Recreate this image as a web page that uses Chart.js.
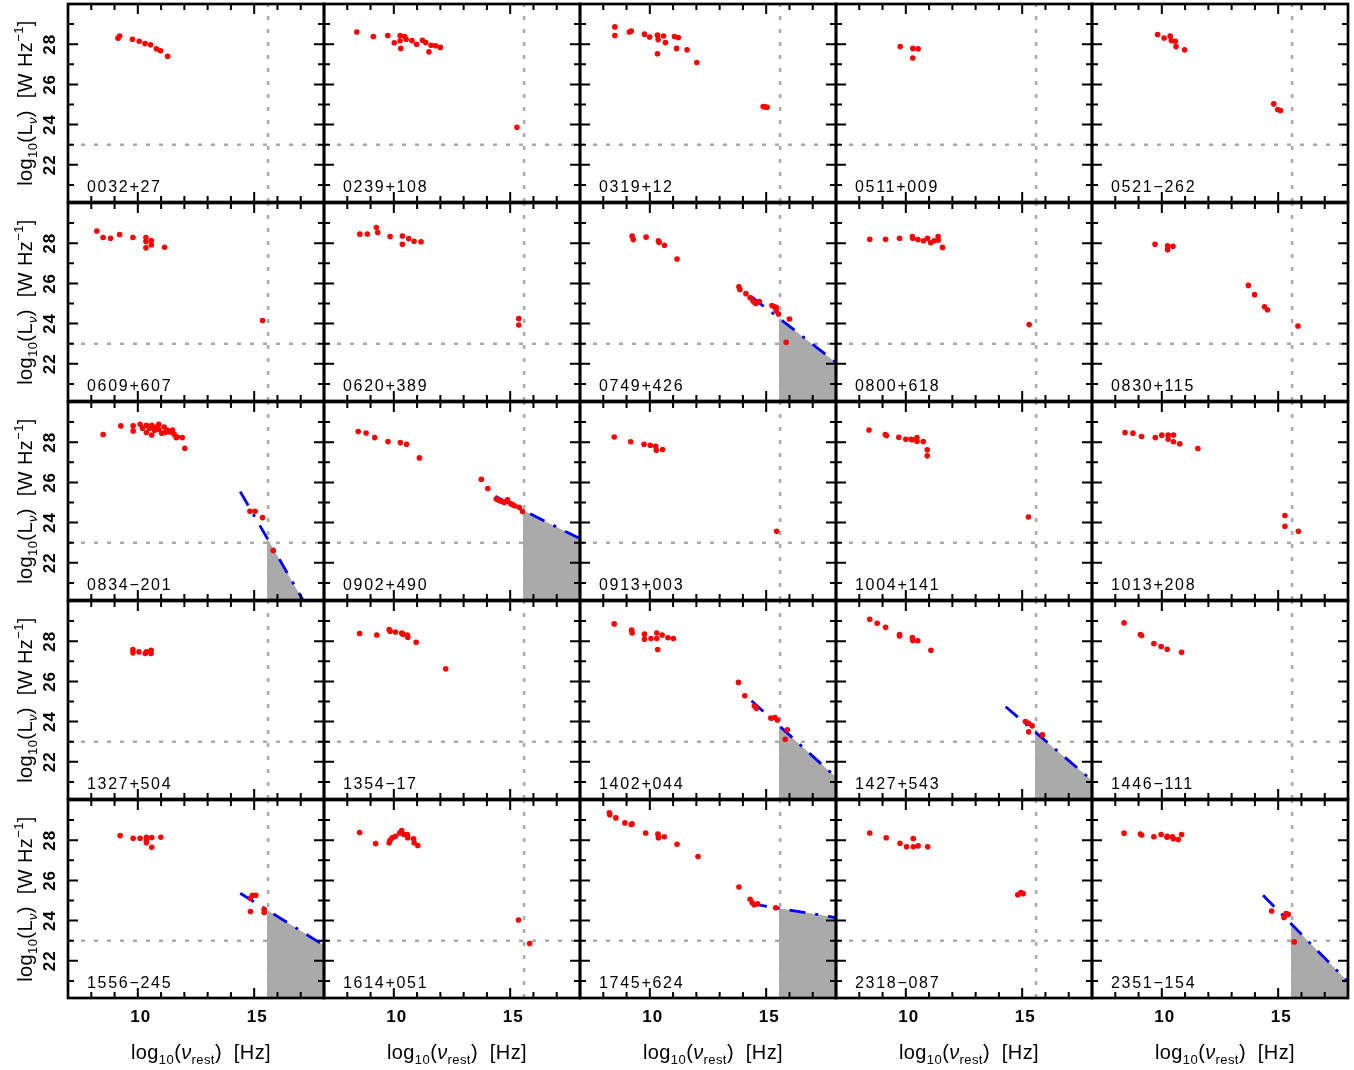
<!DOCTYPE html>
<html>
<head>
<meta charset="utf-8">
<script src="https://cdn.jsdelivr.net/npm/chart.js@4.4.1/dist/chart.umd.min.js"></script>
<style>
  html,body{margin:0;padding:0;background:#fff;}
  body{width:1354px;height:1070px;position:relative;overflow:hidden;font-family:"Liberation Sans",Arial,sans-serif;color:#000;}
  canvas{position:absolute;}
  .ytitle,.xtitle{position:absolute;white-space:nowrap;font-size:20px;line-height:22px;letter-spacing:0.4px;}
  .ytitle{transform:translate(-50%,-50%) rotate(-90deg);}
  .xtitle{transform:translate(-50%,-50%);}
  sub{font-size:13px;vertical-align:-5px;line-height:0;}
  sup{font-size:13px;vertical-align:9px;line-height:0;}
</style>
</head>
<body>
<script>
// ---------- axis settings ----------
const xMin = 7, xMax = 18;
const yMin = 20.15, yMax = 30;
const lymanX = 15.6;       // vertical dotted line
const refY = 23;           // horizontal dotted line
const fillX0 = 15.55;      // start of shaded region
const xTickLabels = [10, 15];
const yTickLabels = [22, 24, 26, 28];

// ---------- panel names ----------
const names = ['0032+27','0239+108','0319+12','0511+009','0521\u2212262',
               '0609+607','0620+389','0749+426','0800+618','0830+115',
               '0834\u2212201','0902+490','0913+003','1004+141','1013+208',
               '1327+504','1354\u221217','1402+044','1427+543','1446\u2212111',
               '1556\u2212245','1614+051','1745+624','2318\u2212087','2351\u2212154'];

// ---------- photometry: log10(nu_rest), log10(L_nu) ----------
const nu_0032 = [9.15,9.22,9.77,10.06,10.31,10.55,10.80,10.98,11.28];
const L_0032  = [28.30,28.41,28.25,28.15,28.03,27.97,27.77,27.67,27.40];

const nu_0239 = [8.41,9.12,9.74,10.02,10.27,10.27,10.30,10.47,10.53,10.78,10.98,11.23,11.37,11.51,11.60,11.80,12.00,15.29];
const L_0239  = [28.61,28.38,28.43,28.07,28.43,28.17,27.79,28.38,28.25,28.18,28.00,28.20,28.08,27.62,27.95,27.92,27.84,23.87];

const nu_0319 = [8.50,8.50,9.12,9.20,9.77,9.99,10.33,10.36,10.33,10.59,10.67,11.06,11.23,11.15,11.60,12.02,14.87,14.95,15.04];
const L_0319  = [28.86,28.43,28.61,28.66,28.50,28.36,28.45,28.23,27.52,28.41,28.08,28.38,28.33,27.79,27.72,27.09,24.90,24.88,24.86];

const nu_0511 = [9.76,10.30,10.53,10.30];
const L_0511  = [27.88,27.79,27.77,27.31];

const nu_0521 = [9.82,10.10,10.36,10.41,10.58,10.61,10.98,14.81,14.98,15.10];
const L_0521  = [28.48,28.31,28.40,28.17,28.15,27.88,27.72,25.03,24.75,24.70];

const nu_0609 = [8.24,8.51,8.83,9.22,9.79,10.35,10.35,10.35,10.58,10.58,11.15,15.36];
const L_0609  = [28.61,28.28,28.25,28.43,28.28,28.28,28.08,27.77,28.13,27.92,27.80,24.15];

const nu_0620 = [8.54,8.86,9.25,9.31,9.84,10.37,10.37,10.64,10.87,11.17,15.37,15.37];
const L_0620  = [28.45,28.46,28.78,28.53,28.33,28.36,27.95,28.23,28.10,28.07,24.25,23.93];

const nu_0749 = [9.24,9.29,9.84,10.37,10.40,10.63,11.17,13.83,13.87,14.13,14.31,14.43,14.49,14.56,14.70,15.25,15.36,15.43,15.43,15.53,16.00,15.86];
const L_0749  = [28.35,28.18,28.30,28.12,28.05,27.90,27.21,25.83,25.70,25.49,25.29,25.14,25.06,25.00,25.10,24.90,24.84,24.80,24.64,24.48,24.23,23.07];

const nu_0800 = [8.45,9.13,9.73,10.28,10.30,10.52,10.76,10.93,11.07,11.22,11.39,11.39,11.58,15.30];
const L_0800  = [28.20,28.20,28.25,28.33,28.25,28.18,28.12,28.25,28.02,28.12,28.33,28.15,27.79,23.95];

const nu_0830 = [9.71,10.25,10.25,10.48,13.72,13.99,14.41,14.54,15.85];
const L_0830  = [27.95,27.87,27.67,27.85,25.90,25.44,24.84,24.69,23.88];

const nu_0834 = [8.51,9.27,9.80,9.80,10.10,10.20,10.37,10.37,10.50,10.60,10.60,10.72,10.80,10.90,10.90,11.03,11.13,11.20,11.26,11.38,11.49,11.56,11.65,11.70,11.91,12.02,14.82,15.04,15.36,15.82];
const L_0834  = [28.38,28.81,28.81,28.56,28.89,28.70,28.84,28.48,28.70,28.84,28.36,28.60,28.75,28.89,28.64,28.45,28.76,28.50,28.60,28.51,28.60,28.40,28.23,28.26,28.23,27.70,24.56,24.56,24.25,22.61];

const nu_0902 = [8.47,8.81,9.18,9.75,10.28,10.55,11.10,13.76,14.04,14.40,14.50,14.57,14.65,14.75,14.89,15.03,15.10,15.19,15.39,15.53];
const L_0902  = [28.53,28.46,28.23,28.03,27.98,27.90,27.22,26.15,25.70,25.17,25.12,25.09,25.05,25.00,25.14,24.93,24.90,24.84,24.76,24.55];

const nu_0913 = [8.47,9.18,9.75,10.02,10.25,10.28,10.55,15.45];
const L_0913  = [28.26,28.02,27.90,27.85,27.80,27.60,27.64,23.57];

const nu_1004 = [8.42,9.12,9.17,9.70,10.00,10.23,10.27,10.48,10.48,10.75,10.92,10.92,15.27];
const L_1004  = [28.61,28.38,28.33,28.25,28.15,28.15,28.12,28.23,28.05,28.03,27.62,27.32,24.28];

const nu_1013 = [8.42,8.76,9.13,9.72,10.00,10.27,10.27,10.50,10.50,10.77,11.55,15.29,15.29,15.87];
const L_1013  = [28.48,28.45,28.28,28.23,28.35,28.35,28.15,28.36,28.02,27.92,27.69,24.35,23.82,23.57];

const nu_1327 = [9.79,9.79,10.05,10.32,10.37,10.57,10.57];
const L_1327  = [27.59,27.42,27.47,27.39,27.47,27.55,27.39];

const nu_1354 = [8.53,9.27,9.80,9.84,10.07,10.34,10.39,10.58,10.60,10.96,12.23];
const L_1354  = [28.38,28.31,28.58,28.50,28.46,28.40,28.35,28.30,28.20,27.95,26.63];

const nu_1402 = [8.47,9.22,9.24,9.77,9.77,10.05,10.30,10.30,10.34,10.53,10.78,11.01,13.81,14.08,14.49,14.58,15.20,15.38,15.48,15.91,15.82];
const L_1402  = [28.86,28.55,28.41,28.35,28.10,28.13,28.41,28.13,27.59,28.31,28.17,28.13,25.95,25.29,24.78,24.66,24.18,24.20,24.08,23.59,23.12];

const nu_1427 = [8.45,8.77,9.13,9.73,9.73,10.28,10.30,10.51,11.08,15.14,15.28,15.43,15.28,15.87];
const L_1427  = [29.09,28.89,28.69,28.33,28.26,28.18,28.03,28.02,27.55,24.00,23.92,23.79,23.49,23.34];

const nu_1446 = [8.38,9.08,9.13,9.66,9.97,10.23,10.85];
const L_1446  = [28.91,28.33,28.28,27.88,27.74,27.60,27.45];

const nu_1556 = [9.24,9.80,10.10,10.37,10.37,10.37,10.60,10.60,10.99,14.84,14.84,14.93,15.07,15.43,15.43];
const L_1556  = [28.23,28.10,28.10,28.15,28.00,27.87,28.13,27.65,28.15,24.45,25.12,25.26,25.26,24.40,24.56];

const nu_1614 = [8.53,9.22,9.80,9.84,9.93,10.07,10.25,10.34,10.43,10.58,10.60,10.85,10.87,11.03,15.36,15.84];
const L_1614  = [28.38,27.83,27.87,28.00,28.12,28.20,28.36,28.48,28.28,28.28,28.12,28.07,27.87,27.74,24.03,22.86];

const nu_1745 = [8.26,8.28,8.54,8.93,9.24,9.20,9.82,10.35,10.37,10.62,11.17,12.07,13.83,14.31,14.40,14.49,14.63,15.41];
const L_1745  = [29.36,29.27,29.11,28.86,28.81,28.78,28.36,28.30,28.12,28.17,27.80,27.19,25.67,25.06,24.89,24.79,24.84,24.64];

const nu_2318 = [8.45,9.16,9.75,10.03,10.32,10.32,10.53,10.94,14.81,14.94,15.04];
const L_2318  = [28.36,28.12,27.85,27.67,28.08,27.67,27.72,27.67,25.29,25.39,25.34];

const nu_2351 = [8.38,9.08,9.13,9.66,9.97,10.23,10.23,10.46,10.50,10.71,10.85,14.72,15.25,15.34,15.43,15.69];
const L_2351  = [28.35,28.31,28.26,28.17,28.28,28.20,28.15,28.17,28.07,28.03,28.28,24.48,24.15,24.35,24.31,22.94];

const panelNu = [nu_0032,nu_0239,nu_0319,nu_0511,nu_0521,nu_0609,nu_0620,nu_0749,nu_0800,nu_0830,
                 nu_0834,nu_0902,nu_0913,nu_1004,nu_1013,nu_1327,nu_1354,nu_1402,nu_1427,nu_1446,
                 nu_1556,nu_1614,nu_1745,nu_2318,nu_2351];
const panelL  = [L_0032,L_0239,L_0319,L_0511,L_0521,L_0609,L_0620,L_0749,L_0800,L_0830,
                 L_0834,L_0902,L_0913,L_1004,L_1013,L_1327,L_1354,L_1402,L_1427,L_1446,
                 L_1556,L_1614,L_1745,L_2318,L_2351];

// ---------- power-law extrapolations (blue dash-dot) and shaded ionising region ----------
const fitSource = ['0749+426','0834\u2212201','0902+490','1402+044','1427+543','1556\u2212245','1745+624','2351\u2212154'];
const fitX0 = [14.35,14.40,14.36,14.37,14.29,14.40,14.35,14.35];   // line start x
const fitY0 = [25.35,25.54,25.31,25.04,24.74,25.36,24.84,25.26];   // line start y
const fitY1 = [22.07,18.34,23.20,21.23,21.07,22.77,24.15,20.96];   // line value at x = xMax
const fillY0 = [24.27,23.24,24.62,23.80,23.49,24.53,24.61,23.84];  // line value at x = fillX0

// ---------- layout ----------
const colLeft = [68,324,580,836,1092];
const rowTop  = [4,203,402,601,800];
const PW = 256, PH = 198;
const ML = 72, MR = 6, MT = 6, MB = 40;

const FONT = '"Liberation Sans", Arial, sans-serif';

const framePlugin = {
  id: 'frame',
  afterDraw(chart) {
    const o = chart.options.plugins.frame;
    const ctx = chart.ctx, a = chart.chartArea;
    const xs = chart.scales.x, ys = chart.scales.y;
    ctx.save();
    ctx.strokeStyle = '#000';
    ctx.lineWidth = 2;
    ctx.beginPath();
    for (let v = Math.ceil(xMin); v <= Math.floor(xMax); v++) {
      const px = xs.getPixelForValue(v);
      const len = (v % 5 === 0) ? 10 : 6;
      ctx.moveTo(px, a.top); ctx.lineTo(px, a.top + len);
      ctx.moveTo(px, a.bottom); ctx.lineTo(px, a.bottom - len);
    }
    for (let v = Math.ceil(yMin); v <= Math.floor(yMax); v++) {
      const py = ys.getPixelForValue(v);
      const len = (v % 2 === 0) ? 10 : 6;
      ctx.moveTo(a.left, py); ctx.lineTo(a.left + len, py);
      ctx.moveTo(a.right, py); ctx.lineTo(a.right - len, py);
    }
    ctx.stroke();
    ctx.lineWidth = 2.7;
    ctx.strokeRect(a.left, a.top, a.right - a.left, a.bottom - a.top);

    ctx.fillStyle = '#000';
    ctx.font = '16px ' + FONT;
    ctx.letterSpacing = '1.7px';
    ctx.textAlign = 'left';
    ctx.textBaseline = 'alphabetic';
    ctx.fillText(o.name, a.left + 19, a.bottom - 10);

    ctx.font = 'bold 17px ' + FONT;
    ctx.letterSpacing = '1px';
    if (o.col === 0) {
      yTickLabels.forEach(v => {
        ctx.save();
        ctx.translate(a.left - 13, ys.getPixelForValue(v));
        ctx.rotate(-Math.PI / 2);
        ctx.textAlign = 'center';
        ctx.fillText(String(v), 0, 0);
        ctx.restore();
      });
    }
    if (o.row === 4) {
      ctx.textAlign = 'center';
      xTickLabels.forEach(v => {
        ctx.fillText(String(v), xs.getPixelForValue(v) + 3, a.bottom + 24);
      });
    }
    ctx.restore();
  }
};

for (let i = 0; i < names.length; i++) {
  const row = Math.floor(i / 5), col = i % 5;
  const cv = document.createElement('canvas');
  const w = PW + ML + MR, h = PH + MT + MB;
  cv.width = w; cv.height = h;
  cv.style.left = (colLeft[col] - ML) + 'px';
  cv.style.top = (rowTop[row] - MT) + 'px';
  cv.style.width = w + 'px'; cv.style.height = h + 'px';
  document.body.appendChild(cv);

  const pts = panelNu[i].map((v, k) => ({x: v, y: panelL[i][k]}));
  const datasets = [
    { type: 'scatter', data: pts, order: 1, pointRadius: 2.8, pointBackgroundColor: '#ff0000',
      pointBorderWidth: 0, pointBorderColor: '#ff0000', showLine: false },
    { type: 'line', data: [{x: lymanX, y: yMin}, {x: lymanX, y: yMax}], order: 6,
      borderColor: '#aaaaaa', borderWidth: 2.5, borderDash: [4, 9], pointRadius: 0, fill: false },
    { type: 'line', data: [{x: xMin, y: refY}, {x: xMax, y: refY}], order: 7,
      borderColor: '#aaaaaa', borderWidth: 2.5, borderDash: [4, 9], pointRadius: 0, fill: false }
  ];
  const f = fitSource.indexOf(names[i]);
  if (f >= 0) {
    datasets.push({ type: 'line', data: [{x: fillX0, y: fillY0[f]}, {x: xMax, y: fitY1[f]}], order: 5,
      borderWidth: 0, borderColor: 'rgba(0,0,0,0)', backgroundColor: '#aaaaaa', pointRadius: 0, fill: 'start' });
    datasets.push({ type: 'line', data: [{x: fitX0[f], y: fitY0[f]}, {x: xMax, y: fitY1[f]}], order: 2,
      borderColor: '#0000ff', borderWidth: 2.8, borderDash: [16, 10, 3, 10], pointRadius: 0, fill: false });
  }

  new Chart(cv, {
    type: 'scatter',
    data: { datasets },
    options: {
      responsive: false,
      animation: false,
      events: [],
      devicePixelRatio: 1,
      layout: { padding: { left: ML, right: MR, top: MT, bottom: MB } },
      scales: {
        x: { type: 'linear', min: xMin, max: xMax, display: false },
        y: { type: 'linear', min: yMin, max: yMax, display: false }
      },
      plugins: {
        legend: { display: false },
        tooltip: { enabled: false },
        frame: { name: names[i], row, col }
      }
    },
    plugins: [framePlugin]
  });
}

// axis titles
for (let r = 0; r < 5; r++) {
  const d = document.createElement('div');
  d.className = 'ytitle';
  d.style.left = '25px';
  d.style.top = (rowTop[r] + PH / 2) + 'px';
  d.innerHTML = 'log<sub>10</sub>(L<sub><i>\u03bd</i></sub>)&nbsp; [W Hz<sup>\u22121</sup>]';
  document.body.appendChild(d);
}
for (let c = 0; c < 5; c++) {
  const d = document.createElement('div');
  d.className = 'xtitle';
  d.style.left = (colLeft[c] + PW / 2 + 5) + 'px';
  d.style.top = '1052px';
  d.innerHTML = 'log<sub>10</sub>(<i>\u03bd</i><sub>rest</sub>)&nbsp; [Hz]';
  document.body.appendChild(d);
}
</script>
</body>
</html>
